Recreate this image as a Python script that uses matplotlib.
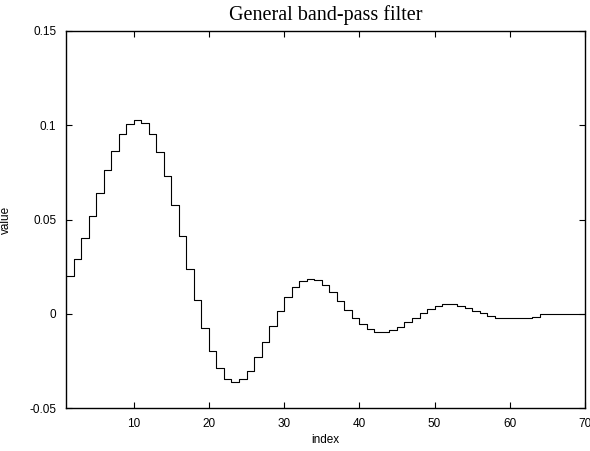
import numpy as np
import matplotlib
matplotlib.use("Agg")
import matplotlib.pyplot as plt

# filter coefficients, index 1..70
idx = list(range(1, 71))
coef = [0.0198, 0.0292, 0.0403, 0.0520, 0.0642, 0.0761, 0.0865, 0.0952, 0.1007, 0.1026,
        0.1010, 0.0954, 0.0858, 0.0731, 0.0577, 0.0410, 0.0237, 0.0071, -0.0078, -0.0200,
        -0.0290, -0.0345, -0.0361, -0.0347, -0.0301, -0.0232, -0.0152, -0.0064, 0.0016, 0.0088,
        0.0140, 0.0172, 0.0184, 0.0177, 0.0150, 0.0113, 0.0068, 0.0022, -0.0021, -0.0056,
        -0.0082, -0.0095, -0.0095, -0.0086, -0.0068, -0.0046, -0.0020, 0.0004, 0.0026, 0.0041,
        0.0050, 0.0051, 0.0042, 0.0030, 0.0015, 0.0002, -0.0012, -0.0021, -0.0024, -0.0025,
        -0.0024, -0.0022, -0.0016, 0.0, 0.0, 0.0, 0.0, 0.0, 0.0, 0.0]

yticks = [-0.05, 0, 0.05, 0.1, 0.15]
ytick_labels = ["-0.05", "0", "0.05", "0.1", "0.15"]
xticks = [10, 20, 30, 40, 50, 60, 70]

plt.rcParams['font.family'] = ['Liberation Sans', 'DejaVu Sans']

fig = plt.figure(figsize=(5.9, 4.51), dpi=100)
ax = fig.add_axes([0.1119, 0.0953, 0.8796, 0.836])

ax.step(idx, coef, where='post', color='black', lw=0.8)

ax.set_xlim(1, 70)
ax.set_ylim(-0.05, 0.15)
ax.set_xticks(xticks)
ax.set_yticks(yticks)
ax.set_yticklabels(ytick_labels)
ax.tick_params(direction='in', length=4, width=0.8, labelsize=8.5,
               top=True, right=True, pad=7)
for s in ax.spines.values():
    s.set_linewidth(1.0)

ax.set_xlabel('index', fontsize=8.5, labelpad=3)
ax.set_ylabel('value', fontsize=8.5)
ax.yaxis.set_label_coords(-0.105, 0.5)
ax.set_title('General band-pass filter', fontsize=14.5,
             family='Liberation Serif', pad=8)

fig.savefig('out.png', dpi=100)
